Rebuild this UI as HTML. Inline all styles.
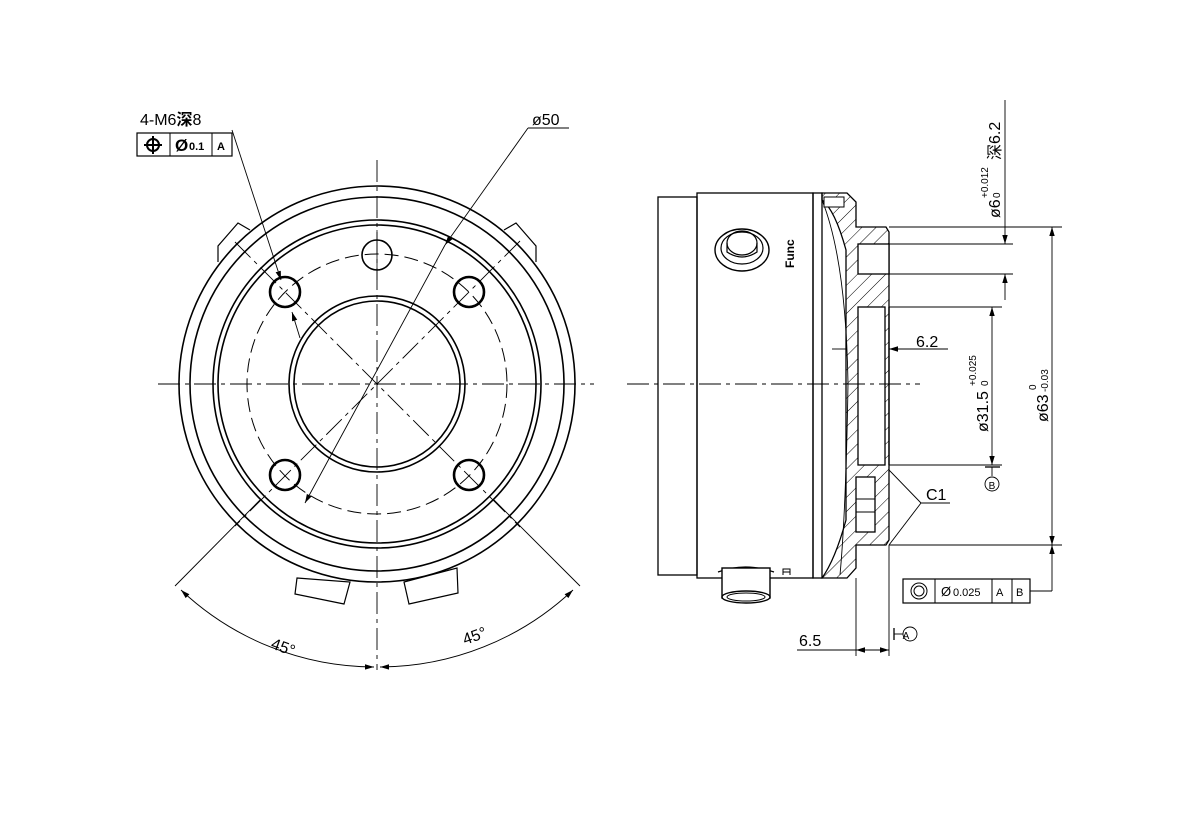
<!DOCTYPE html>
<html><head><meta charset="utf-8"><style>
html,body{margin:0;padding:0;background:#fff;}
svg{display:block;}
text{font-family:"Liberation Sans","Noto Sans CJK SC",sans-serif;fill:#000;}
</style></head><body>
<svg width="1182" height="814" viewBox="0 0 1182 814" xmlns="http://www.w3.org/2000/svg">
<defs>
<marker id="ar" viewBox="0 0 10 10" refX="10" refY="5" markerWidth="9" markerHeight="9" orient="auto-start-reverse" markerUnits="userSpaceOnUse"><path d="M0,2 L10,5 L0,8 z" fill="#000"/></marker>
<pattern id="hatch" width="10" height="10" patternUnits="userSpaceOnUse" patternTransform="rotate(45)"><line x1="0" y1="0" x2="0" y2="10" stroke="#000" stroke-width="1"/></pattern>
</defs>
<rect width="1182" height="814" fill="#fff"/>
<g fill="none" stroke="#000">
<!-- LEFT VIEW -->
<g stroke-width="1.6">
<circle cx="377" cy="384" r="198"/>
<circle cx="377" cy="384" r="187"/>
<circle cx="377" cy="384" r="164"/>
<circle cx="377" cy="384" r="159"/>
<circle cx="377" cy="384" r="88"/>
<circle cx="377" cy="384" r="83"/>
<circle cx="377" cy="255" r="15"/>
</g>
<g stroke-width="2.6">
<circle cx="285" cy="292" r="15"/><circle cx="469" cy="292" r="15"/>
<circle cx="285" cy="475" r="15"/><circle cx="469" cy="475" r="15"/>
</g>
<circle cx="377" cy="384" r="130" stroke-width="1" stroke-dasharray="14,6"/>
<g stroke-width="1.2">
<polygon points="297,578 350,582 344,604 295,594" fill="#fff"/>
<polygon points="404,582 457,568 458,593 409,604" fill="#fff"/>
<polyline points="218,262 218,246 238,223 250,230"/>
<polyline points="536,262 536,246 516,223 504,230"/>
</g>
<g stroke-width="0.9" stroke-dasharray="22,5,4,5">
<line x1="158" y1="384" x2="594" y2="384"/>
<line x1="377" y1="160" x2="377" y2="670"/>
<line x1="235" y1="242" x2="520" y2="527"/>
<line x1="520" y1="241" x2="235" y2="526"/>
</g>
<line x1="377" y1="230" x2="377" y2="280" stroke-width="0.8"/>
<g stroke-width="0.9">
<line x1="260" y1="500" x2="175" y2="586"/>
<line x1="494" y1="500" x2="580" y2="586"/>
<path d="M181,590 A283,283 0 0 0 374,667" marker-start="url(#ar)" marker-end="url(#ar)"/>
<path d="M573,590 A283,283 0 0 1 380,667" marker-start="url(#ar)" marker-end="url(#ar)"/>
<line x1="232" y1="130" x2="281" y2="280" marker-end="url(#ar)"/>
<line x1="300" y1="338" x2="292" y2="312" marker-end="url(#ar)"/>
<line x1="528" y1="128" x2="569" y2="128"/>
<line x1="528" y1="128" x2="445" y2="245" marker-end="url(#ar)"/>
<line x1="445" y1="245" x2="305" y2="503" marker-end="url(#ar)"/>
</g>
<rect x="137" y="133" width="95" height="23" stroke-width="1.2"/>
<line x1="170" y1="133" x2="170" y2="156" stroke-width="1"/>
<line x1="212" y1="133" x2="212" y2="156" stroke-width="1"/>
<circle cx="153" cy="145" r="6" stroke-width="2"/>
<line x1="144" y1="145" x2="162" y2="145" stroke-width="2"/>
<line x1="153" y1="136" x2="153" y2="154" stroke-width="2"/>

<!-- RIGHT VIEW -->
<g stroke-width="1.3">
<rect x="658" y="197" width="39" height="378"/>
<rect x="697" y="193" width="116" height="385"/>
<rect x="813" y="193" width="9" height="385"/>
</g>
<path d="M822,193 L847,193 L856,202 L856,227 L886,227 L889,232 L889,540 L886,545 L856,545 L856,568 L847,578 L822,578 Q835,560 846,520 L846,250 Q835,210 822,200 Z" fill="url(#hatch)" stroke-width="1.3"/>
<path d="M822,200 Q846,260 848,384 Q846,510 840,575" stroke-width="0.9"/>
<rect x="858" y="244" width="31" height="30" fill="#fff" stroke-width="1.3"/>
<rect x="858" y="307" width="27" height="158" fill="#fff" stroke-width="1.3"/>
<line x1="889" y1="307" x2="889" y2="465" stroke-width="1.3"/>
<rect x="856" y="477" width="19" height="55" fill="#fff" stroke-width="1.3"/>
<line x1="856" y1="499" x2="875" y2="499" stroke-width="1"/>
<line x1="856" y1="512" x2="875" y2="512" stroke-width="1"/>
<rect x="824" y="197" width="20" height="10" fill="#fff" stroke-width="1"/>
<ellipse cx="742" cy="250" rx="27" ry="21" stroke-width="1.4"/>
<ellipse cx="742" cy="248" rx="21" ry="16" stroke-width="1.2"/>
<ellipse cx="742" cy="243" rx="15" ry="12" stroke-width="1.2"/>
<path d="M727,243 L727,252 Q742,262 757,252 L757,243" stroke-width="1.2"/>
<path d="M718,572 Q745,562 774,572" stroke-width="1.2"/>
<rect x="722" y="568" width="48" height="30" fill="#fff" stroke-width="1.4"/>
<ellipse cx="746" cy="597" rx="24" ry="6" fill="#fff" stroke-width="1.4"/>
<ellipse cx="746" cy="597" rx="19" ry="4" stroke-width="1"/>
<path d="M783,575 L783,569 L790,569 L790,575 M783,572 L790,572" stroke-width="1"/>
<line x1="627" y1="384" x2="920" y2="384" stroke-width="0.9" stroke-dasharray="22,5,4,5"/>
<g stroke-width="0.9">
<line x1="889" y1="227" x2="1062" y2="227"/>
<line x1="889" y1="545" x2="1062" y2="545"/>
<line x1="889" y1="244" x2="1013" y2="244"/>
<line x1="889" y1="274" x2="1013" y2="274"/>
<line x1="889" y1="307" x2="1002" y2="307"/>
<line x1="889" y1="465" x2="1002" y2="465"/>
<line x1="1005" y1="100" x2="1005" y2="244" marker-end="url(#ar)"/>
<line x1="1005" y1="300" x2="1005" y2="274" marker-end="url(#ar)"/>
<line x1="992" y1="307" x2="992" y2="465" marker-start="url(#ar)" marker-end="url(#ar)"/>
<line x1="1052" y1="227" x2="1052" y2="545" marker-start="url(#ar)" marker-end="url(#ar)"/>
<line x1="1052" y1="591" x2="1052" y2="545" marker-end="url(#ar)"/>
<line x1="1030" y1="591" x2="1052" y2="591"/>
<line x1="832" y1="349" x2="846" y2="349"/>
<line x1="948" y1="349" x2="889" y2="349" marker-end="url(#ar)"/>
<line x1="889" y1="470" x2="921" y2="503"/>
<line x1="889" y1="545" x2="921" y2="503"/>
<line x1="921" y1="503" x2="950" y2="503"/>
<line x1="985" y1="467" x2="1000" y2="467" stroke-width="1.3"/>
<line x1="992" y1="467" x2="992" y2="476"/>
<circle cx="992" cy="484" r="7"/>
<line x1="856" y1="578" x2="856" y2="656"/>
<line x1="889" y1="545" x2="889" y2="656"/>
<line x1="797" y1="650" x2="856" y2="650"/>
<line x1="856" y1="650" x2="889" y2="650" marker-start="url(#ar)" marker-end="url(#ar)"/>
<line x1="894" y1="628" x2="894" y2="640" stroke-width="1.3"/>
<line x1="894" y1="634" x2="903" y2="634"/>
<circle cx="910" cy="634" r="7"/>
</g>
<rect x="903" y="579" width="127" height="24" stroke-width="1.2"/>
<line x1="935" y1="579" x2="935" y2="603"/>
<line x1="992" y1="579" x2="992" y2="603"/>
<line x1="1012" y1="579" x2="1012" y2="603"/>
<circle cx="919" cy="591" r="8" stroke-width="1"/>
<circle cx="919" cy="591" r="5" stroke-width="1"/>
</g>

<text x="140" y="125" font-size="16">4-M6<tspan font-weight="bold">深</tspan>8</text>
<text x="175" y="151" font-size="17" font-weight="bold">Ø</text>
<text x="189" y="150" font-size="11" font-weight="bold">0.1</text>
<text x="217" y="150" font-size="11" font-weight="bold">A</text>
<text x="532" y="125" font-size="16">ø50</text>
<text x="270" y="648" font-size="16" transform="rotate(20 270 648)">45°</text>
<text x="465" y="645" font-size="16" transform="rotate(-20 465 645)">45°</text>
<text x="0" y="0" font-size="12" font-weight="bold" transform="translate(794,268) rotate(-90)">Func</text>
<text x="916" y="347" font-size="16">6.2</text>
<text x="926" y="500" font-size="16">C1</text>
<text x="799" y="646" font-size="16">6.5</text>
<text x="906" y="639" font-size="10" text-anchor="middle">A</text>
<text x="992" y="489" font-size="10" text-anchor="middle">B</text>
<text x="941" y="596" font-size="13">Ø</text>
<text x="953" y="596" font-size="11">0.025</text>
<text x="996" y="596" font-size="11">A</text>
<text x="1016" y="596" font-size="11">B</text>
<g transform="translate(1000,218) rotate(-90)">
<text x="0" y="0" font-size="16">ø6</text>
<text x="20" y="-12" font-size="10">+0.012</text>
<text x="20" y="0" font-size="10">0</text>
<text x="58" y="0" font-size="16">深6.2</text>
</g>
<g transform="translate(988,432) rotate(-90)">
<text x="0" y="0" font-size="16">ø31.5</text>
<text x="46" y="-12" font-size="10">+0.025</text>
<text x="46" y="0" font-size="10">0</text>
</g>
<g transform="translate(1048,422) rotate(-90)">
<text x="0" y="0" font-size="16">ø63</text>
<text x="32" y="-12" font-size="10">0</text>
<text x="30" y="0" font-size="10">-0.03</text>
</g>
</svg>
</body></html>
